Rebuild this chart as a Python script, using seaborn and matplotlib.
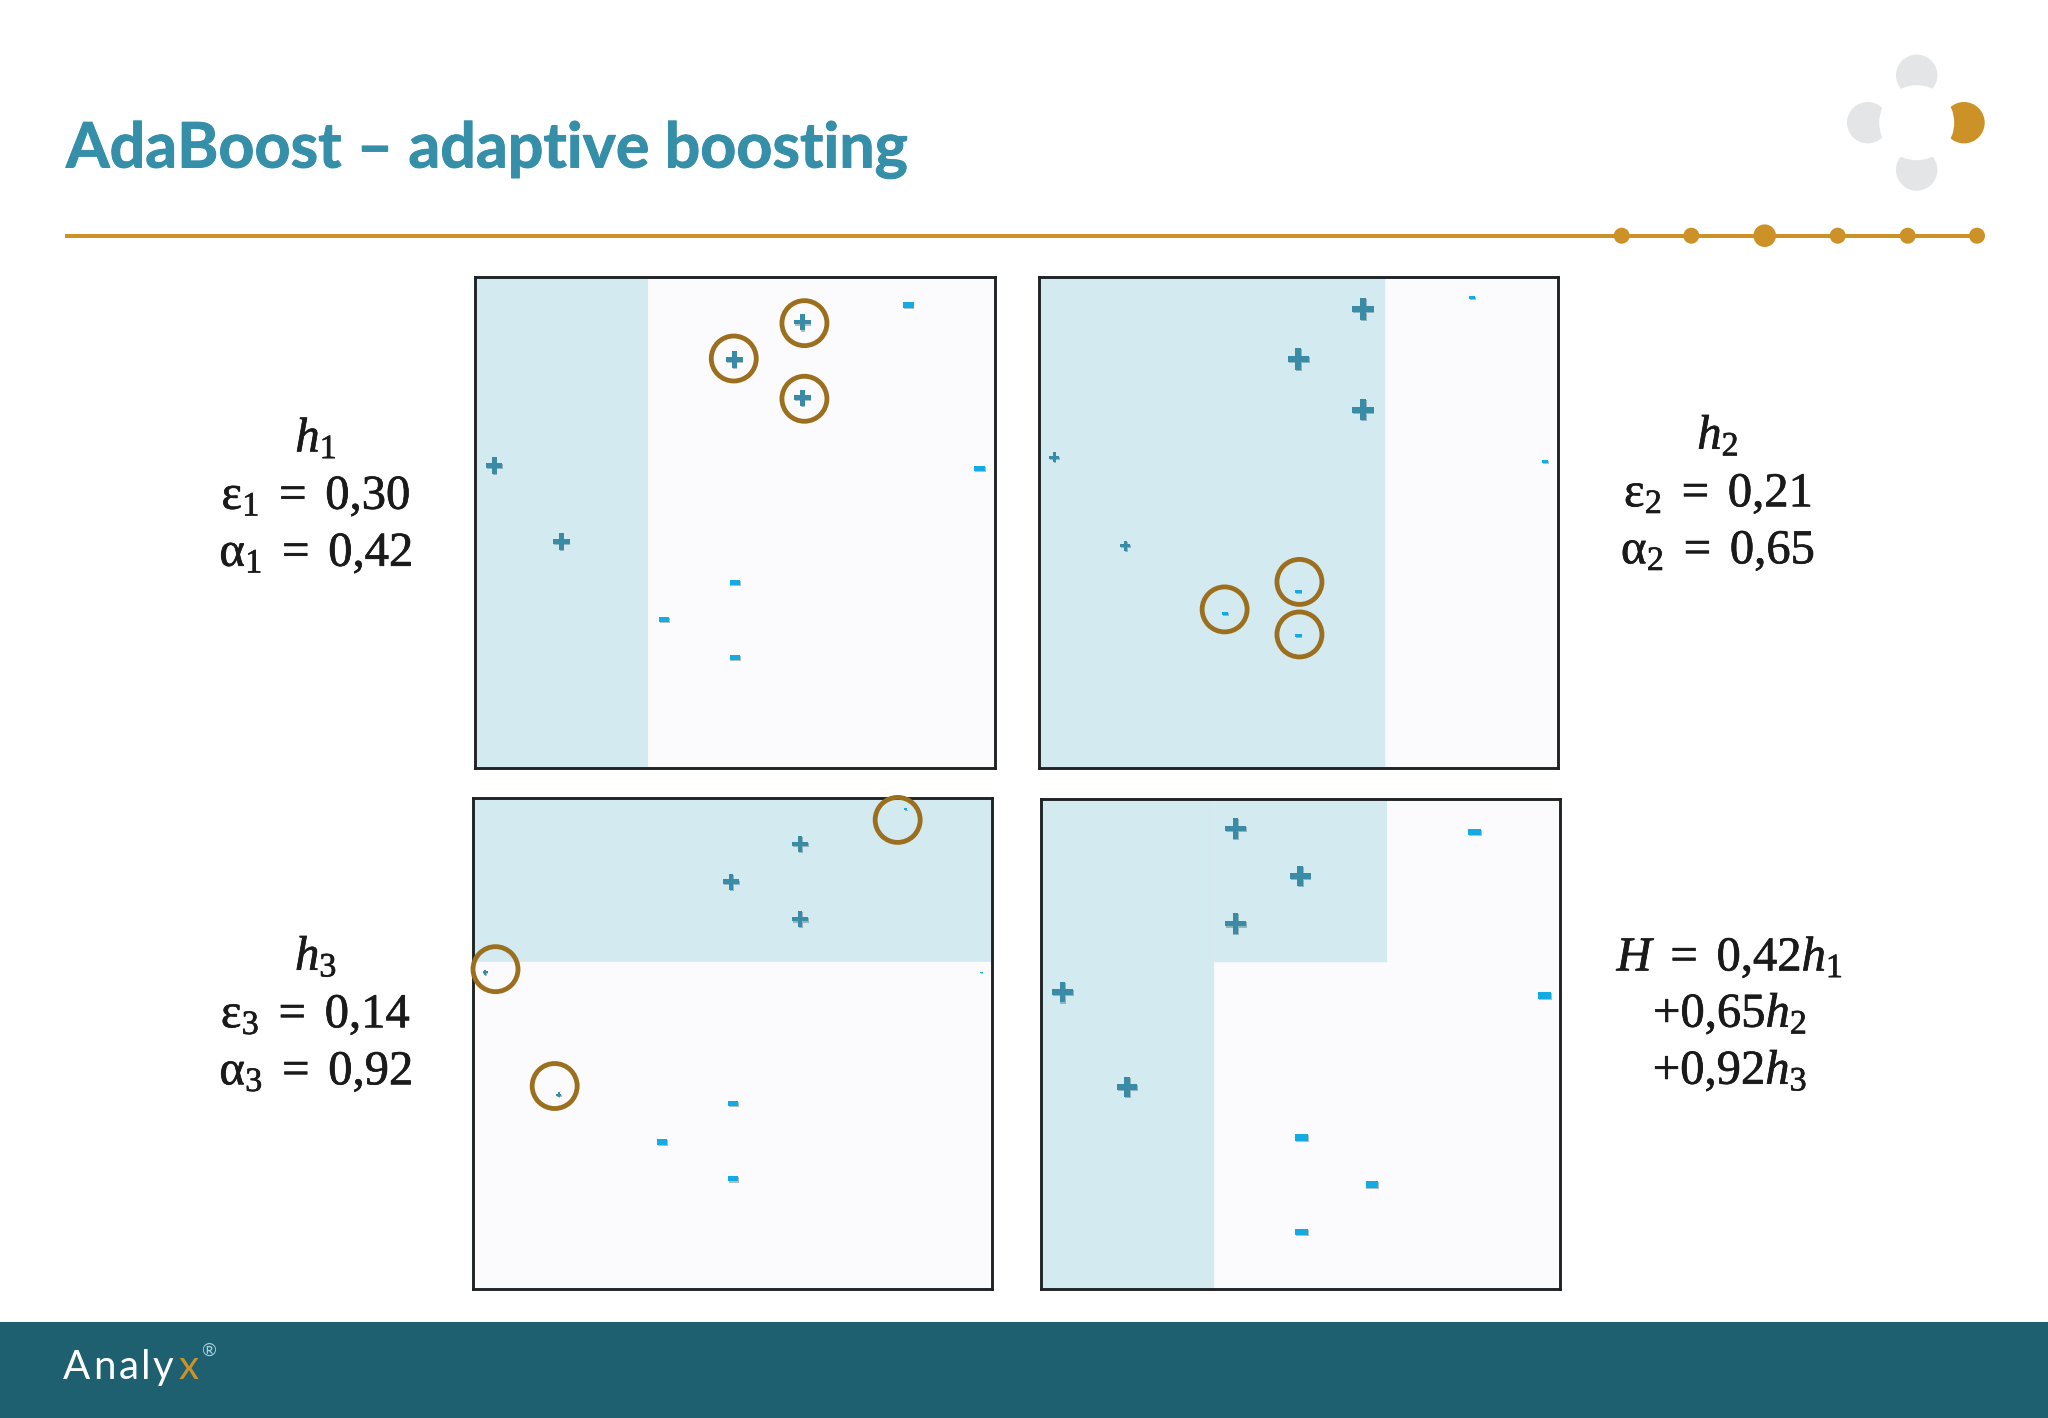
import matplotlib
matplotlib.use('Agg')
import matplotlib.pyplot as plt
from matplotlib.patches import Circle, Rectangle
from matplotlib.path import Path
import matplotlib.patheffects as pe
import pandas as pd
import seaborn as sns

# points of each panel, in percent of the panel (x from left, y from bottom)
H1_X = [3.7, 16.6, 49.9, 63.0, 63.0, 83.4, 97.1, 50.0, 36.4, 50.0]
H1_Y = [61.6, 46.1, 83.2, 90.8, 75.4, 94.3, 61.0, 37.8, 30.2, 22.5]
H1_WEIGHT = [1.0, 1.0, 1.0, 1.0, 1.0, 1.0, 1.0, 1.0, 1.0, 1.0]

H2_X = [3.0, 16.7, 50.0, 62.4, 62.4, 83.4, 97.5, 50.0, 35.9, 50.0]
H2_Y = [63.3, 45.3, 83.3, 93.5, 73.0, 95.9, 62.5, 35.9, 31.5, 27.0]
H2_WEIGHT = [0.6, 0.6, 1.3, 1.3, 1.3, 0.6, 0.6, 0.6, 0.6, 0.6]

H3_X = [2.3, 16.5, 49.7, 63.0, 63.0, 83.3, 97.9, 50.1, 36.4, 50.1]
H3_Y = [64.6, 39.6, 83.0, 90.7, 75.4, 97.8, 64.5, 37.9, 30.0, 22.5]
H3_WEIGHT = [0.3, 0.3, 1.0, 1.0, 1.0, 0.25, 0.25, 1.0, 1.0, 1.0]

FINAL_X = [4.2, 16.6, 50.0, 37.5, 37.5, 83.6, 97.0, 50.3, 63.8, 50.3]
FINAL_Y = [60.6, 41.3, 84.3, 94.0, 74.6, 93.3, 59.9, 31.0, 21.4, 11.7]
FINAL_WEIGHT = [1.24, 1.24, 1.24, 1.24, 1.24, 1.23, 1.23, 1.23, 1.23, 1.23]

LABELS = ['+', '+', '+', '+', '+', '-', '-', '-', '-', '-']

# misclassified points
H1_MISS_X = [63.4, 49.8, 63.4]
H1_MISS_Y = [90.6, 83.4, 75.2]
H2_MISS_X = [50.2, 35.8, 50.2]
H2_MISS_Y = [37.9, 32.3, 27.2]
H3_MISS_X = [81.8, 4.3, 15.7]
H3_MISS_Y = [95.6, 65.2, 41.4]

# decision regions (x0, x1, y0, y1), percent
H1_REGION = [(0, 33.3, 0, 100)]
H2_REGION = [(0, 66.7, 0, 100)]
H3_REGION = [(0, 100, 66.7, 100)]
FINAL_REGION = [(0, 33.4, 0, 100), (33.4, 66.7, 66.7, 100)]

LEFT_LABELS = [
    [r'$h_1$', r'$\mathrm{ε}_1\ =\ 0{,}30$', r'$\mathrm{α}_1\ =\ 0{,}42$'],
    [r'$h_3$', r'$\mathrm{ε}_3\ =\ 0{,}14$', r'$\mathrm{α}_3\ =\ 0{,}92$'],
]
RIGHT_LABELS = [
    [r'$h_2$', r'$\mathrm{ε}_2\ =\ 0{,}21$', r'$\mathrm{α}_2\ =\ 0{,}65$'],
    [r'$H\ =\ 0{,}42h_1$', r'$+0{,}65h_2$', r'$+0{,}92h_3$'],
]

TEAL = '#368FA8'
GOLD = '#CC9228'
RING = '#9C6F1E'
PLUS = '#3A8BA5'
MINUS = '#14ABE3'
REGION = '#D2EAF0'
PANEL_BG = '#FBFAFC'
FOOTER = '#1E5F70'
GREY = '#E4E5E6'

W, H = 2048, 1418
PX = 0.72  # points per pixel at dpi 100


def cross_marker():
    t = 0.28
    verts = [(-t, -1), (t, -1), (t, -t), (1, -t), (1, t), (t, t), (t, 1), (-t, 1),
             (-t, t), (-1, t), (-1, -t), (-t, -t), (-t, -1)]
    return Path(verts, closed=True)


def dash_marker():
    t = 0.5
    verts = [(-1, -t), (1, -t), (1, t), (-1, t), (-1, -t)]
    return Path(verts, closed=True)


def add_panel(fig, box, xs, ys, weights, regions, miss_x=None, miss_y=None):
    left, right, top, bottom = box
    ax = fig.add_axes([left / W, 1 - bottom / H, (right - left) / W, (bottom - top) / H])
    ax.set_facecolor(PANEL_BG)
    for x0, x1, y0, y1 in regions:
        # no clipping here, the clip box left a 1px gap against the spine
        rect = Rectangle((x0, y0), x1 - x0, y1 - y0, color=REGION, lw=0, zorder=1, clip_on=False)
        rect.set_snap(False)
        ax.add_patch(rect)

    df = pd.DataFrame({'x': xs, 'y': ys, 'weight': weights, 'label': LABELS})
    plus = df[df['label'] == '+']
    minus = df[df['label'] == '-']
    sns.scatterplot(data=plus, x='x', y='y', ax=ax, marker=cross_marker(), color=PLUS,
                    s=(plus['weight'].to_numpy() * 16.5 * PX) ** 2, linewidth=0,
                    edgecolor='none', legend=False, zorder=3)
    sns.scatterplot(data=minus, x='x', y='y', ax=ax, marker=dash_marker(), color=MINUS,
                    s=(minus['weight'].to_numpy() * 10.5 * PX) ** 2, linewidth=0,
                    edgecolor='none', legend=False, zorder=3)
    shadow = pe.withSimplePatchShadow(offset=(0.6, -0.8), shadow_rgbFace='#1E4E60', alpha=0.35)
    for points in ax.collections:
        points.set_path_effects([shadow])
    if miss_x is not None:
        sns.scatterplot(x=miss_x, y=miss_y, ax=ax, marker='o', facecolor='none',
                        edgecolor=RING, s=(45.0 * PX) ** 2, linewidth=4.8 * PX,
                        clip_on=False, legend=False, zorder=5)

    ax.set_xlim(0, 100)
    ax.set_ylim(0, 100)
    ax.set_xlabel('')
    ax.set_ylabel('')
    ax.set_xticks([])
    ax.set_yticks([])
    for spine in ax.spines.values():
        spine.set_visible(True)
        spine.set_linewidth(2.9 * PX)
        spine.set_color('#1F2326')
        spine.set_zorder(4)
    return ax


def draw_page(bg):
    # title and rule
    title = bg.text(66, 167.5, 'AdaBoost – adaptive boosting', color=TEAL, fontsize=45.2,
                    fontweight='bold', family='Lato', ha='left', va='baseline')
    title.set_path_effects([pe.withStroke(linewidth=0.7, foreground=TEAL)])
    sns.lineplot(x=[65, 1977], y=[235.7, 235.7], ax=bg, color=GOLD, linewidth=4.0 * PX,
                 solid_capstyle='butt')
    for cx, r in zip([1621.7, 1691.3, 1764.7, 1837.7, 1907.7, 1977],
                     [8, 8, 11.3, 8, 8, 8]):
        bg.add_patch(Circle((cx, 235.7), r, color=GOLD, lw=0, zorder=3))

    # logo
    bg.add_patch(Circle((1916.7, 75.3), 20.7, color=GREY, lw=0))
    bg.add_patch(Circle((1916.7, 170), 20.7, color=GREY, lw=0))
    bg.add_patch(Circle((1867.7, 122.7), 20.7, color=GREY, lw=0))
    bg.add_patch(Circle((1964, 122.7), 20.7, color=GOLD, lw=0))
    bg.add_patch(Circle((1916.7, 122.7), 37.5, color='white', lw=0, zorder=2))

    # footer
    bg.add_patch(Rectangle((0, 1322), W, H - 1322, color=FOOTER, lw=0))
    for letter, x, col in zip('Analyx', [63.3, 93.5, 118.5, 141, 152.5, 178.5],
                              ['white'] * 5 + [GOLD]):
        bg.text(x, 1379, letter, color=col, fontsize=29, family='Lato', ha='left', va='baseline')
    bg.text(208.5, 1351, '®', color='#A8D5E0', fontsize=13, family='Lato', ha='center', va='center')

    # formulas
    for lines, x, baselines in [(LEFT_LABELS[0], 316, [451.7, 509, 566]),
                                (LEFT_LABELS[1], 316, [970, 1027.5, 1084.5]),
                                (RIGHT_LABELS[0], 1718, [449, 506.5, 563.5]),
                                (RIGHT_LABELS[1], 1730, [970.7, 1027, 1084])]:
        for line, y in zip(lines, baselines):
            t = bg.text(x, y, line, color='#1A1A1A', fontsize=35, ha='center', va='baseline')
            t.set_path_effects([pe.withStroke(linewidth=0.5, foreground='#1A1A1A')])


def main():
    sns.set_style('white')
    plt.rcParams['font.family'] = ['Liberation Serif', 'DejaVu Serif']
    plt.rcParams['mathtext.fontset'] = 'custom'
    plt.rcParams['mathtext.rm'] = 'Liberation Serif'
    plt.rcParams['mathtext.it'] = 'Liberation Serif:italic'

    fig = plt.figure(figsize=(W / 100, H / 100), dpi=100, facecolor='white')
    bg = fig.add_axes([0, 0, 1, 1])
    bg.set_xlim(0, W)
    bg.set_ylim(H, 0)
    bg.axis('off')
    draw_page(bg)
    bg.set_xlim(0, W)
    bg.set_ylim(H, 0)

    add_panel(fig, (475, 994.6, 277, 768), H1_X, H1_Y, H1_WEIGHT, H1_REGION, H1_MISS_X, H1_MISS_Y)
    add_panel(fig, (1038.6, 1558.2, 277, 768), H2_X, H2_Y, H2_WEIGHT, H2_REGION, H2_MISS_X, H2_MISS_Y)
    add_panel(fig, (473.2, 992.1, 798.3, 1289.3), H3_X, H3_Y, H3_WEIGHT, H3_REGION, H3_MISS_X, H3_MISS_Y)
    add_panel(fig, (1040.7, 1560, 799, 1289.3), FINAL_X, FINAL_Y, FINAL_WEIGHT, FINAL_REGION)

    fig.savefig('out.png', dpi=100)


if __name__ == '__main__':
    main()
